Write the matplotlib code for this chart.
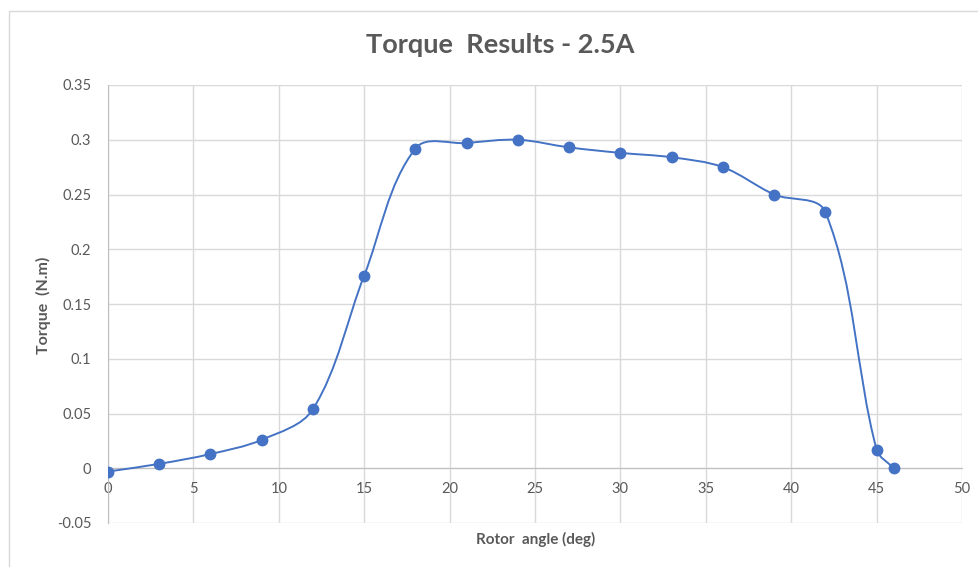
import matplotlib
matplotlib.use("Agg")
import matplotlib.pyplot as plt
from matplotlib.path import Path
from matplotlib.patches import PathPatch, Rectangle
import numpy as np

plt.rcParams['font.family'] = ['Lato', 'DejaVu Sans']

# Measured torque versus rotor angle at 2.5 A
angle_deg = [0, 3, 6, 9, 12, 15, 18, 21, 24, 27, 30, 33, 36, 39, 42, 45, 46]
torque_nm = [-0.003, 0.004, 0.013, 0.026, 0.054, 0.176, 0.292, 0.297, 0.300,
             0.293, 0.288, 0.284, 0.275, 0.250, 0.234, 0.017, 0.000]

x_ticks = [0, 5, 10, 15, 20, 25, 30, 35, 40, 45, 50]
y_ticks = [-0.05, 0, 0.05, 0.1, 0.15, 0.2, 0.25, 0.3, 0.35]
y_tick_labels = ['-0.05', '0', '0.05', '0.1', '0.15', '0.2', '0.25', '0.3', '0.35']

TEXT = '#595959'
GRID = '#d9d9d9'
AXIS = '#bfbfbf'
BLUE = '#4472c4'


def smooth_path(ax, xs, ys, tension=1 / 3):
    """Smoothed Bezier path through the points.

    Tangent directions come from the neighbouring points, and handle
    lengths are scaled by the adjacent segment length in screen space,
    which keeps the curve from overshooting on uneven spacing.
    """
    p = ax.transData.transform(np.column_stack([xs, ys]).astype(float))
    n = len(p)
    tangents = []
    for i in range(n):
        a = p[i - 1] if i > 0 else p[i]
        b = p[i + 1] if i < n - 1 else p[i]
        d = b - a
        tangents.append(d / np.hypot(*d))
    verts = [p[0]]
    codes = [Path.MOVETO]
    for i in range(n - 1):
        seg = np.hypot(*(p[i + 1] - p[i]))
        c1 = p[i] + tangents[i] * seg * tension
        c2 = p[i + 1] - tangents[i + 1] * seg * tension
        verts += [c1, c2, p[i + 1]]
        codes += [Path.CURVE4] * 3
    verts = ax.transData.inverted().transform(np.array(verts))
    return Path(verts, codes)


fig = plt.figure(figsize=(9.79, 5.67), dpi=100)
fig.patch.set_facecolor('white')

# chart area outline
fig.add_artist(Rectangle((9 / 979, -0.01), 1.0, 1 - 11 / 567 + 0.01,
                         transform=fig.transFigure, fill=False,
                         edgecolor='#d9d9d9', linewidth=1.0))

ax = fig.add_axes([108 / 979, 1 - 523 / 567, (962 - 108) / 979, (523 - 85) / 567])
ax.set_xlim(0, 50)
ax.set_ylim(-0.05, 0.35)
ax.set_xticks(x_ticks)
ax.set_yticks(y_ticks)
ax.set_yticklabels(y_tick_labels)
ax.grid(True, color=GRID, linewidth=1.0)
ax.set_axisbelow(True)

for side in ('top', 'right'):
    ax.spines[side].set_visible(False)
ax.spines['left'].set_color(AXIS)
ax.spines['bottom'].set_color(AXIS)
ax.spines['bottom'].set_position(('data', 0))

ax.tick_params(axis='both', length=0, labelsize=10.5, labelcolor=TEXT)
ax.tick_params(axis='x', pad=10)
ax.tick_params(axis='y', pad=12)

ax.add_patch(PathPatch(smooth_path(ax, angle_deg, torque_nm), fill=False,
                       edgecolor=BLUE, linewidth=1.4, zorder=3))
ax.plot(angle_deg, torque_nm, linestyle='none', marker='o', markersize=7.5,
        color=BLUE, zorder=4)

fig.text(0.511, 1 - 45 / 567, 'Torque  Results - 2.5A', ha='center', va='center',
         fontsize=19.5, fontweight='bold', color=TEXT)
fig.text(43 / 979, 1 - 305 / 567, 'Torque  (N.m)', rotation=90, ha='center',
         va='center', fontsize=11.5, fontweight='bold', color=TEXT)
fig.text(536 / 979, 1 - 539 / 567, 'Rotor  angle (deg)', ha='center', va='center',
         fontsize=11, fontweight='bold', color=TEXT)

fig.savefig('out.png', dpi=100, facecolor='white')
